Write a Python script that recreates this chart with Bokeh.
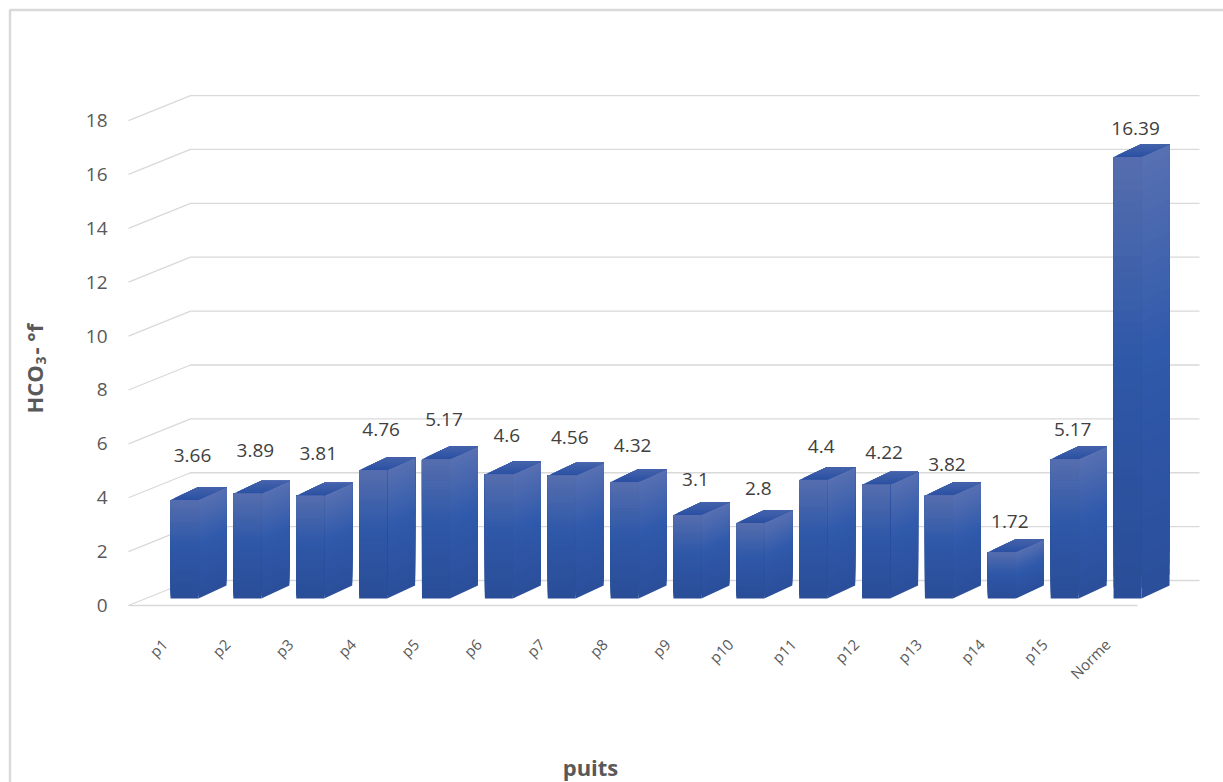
import math
import numpy as np
from bokeh.plotting import figure
from bokeh.models import Range1d, ColumnDataSource
from bokeh.core.properties import value
from bokeh.embed import file_html
from bokeh.resources import INLINE

# ---- data -------------------------------------------------------------
categories = ["p1", "p2", "p3", "p4", "p5", "p6", "p7", "p8", "p9", "p10",
              "p11", "p12", "p13", "p14", "p15", "Norme"]
hco3 = [3.66, 3.89, 3.81, 4.76, 5.17, 4.6, 4.56, 4.32, 3.1, 2.8,
        4.4, 4.22, 3.82, 1.72, 5.17, 16.39]
y_ticks = [0, 2, 4, 6, 8, 10, 12, 14, 16, 18]
x_title = "puits"

# ---- layout (pixels of the 3-D projection) ---------------------------
W, H = 1223, 782
X0_PX, CAT_PX = 167.0, 62.87      # front-plane x of first category, spacing
Y0_PX, UNIT_PX = 605.0, 26.94     # front-plane y of value 0, px per unit


def sx(px):
    return (px - X0_PX) / CAT_PX


def sy(py):
    return (Y0_PX - py) / UNIT_PX


def dx(px):
    return px / CAT_PX


def dy(px):
    return px / UNIT_PX


FLOOR_DX, FLOOR_DY = dx(62), dy(25)     # full depth of the floor
BAR_FX, BAR_FY = dx(17), dy(7)          # depth at which bar fronts stand
BAR_DX, BAR_DY = dx(28), dy(13)         # depth of a bar
HALF_W = dx(14)                         # half width of a bar front
X_LEFT, X_RIGHT = sx(128), sx(1137)     # floor front edge extent

GRID = "#d9d9d9"
TICK_TXT = "#595959"
LABEL_TXT = "#404040"
FONT = "Open Sans"


def hex2rgb(h):
    h = h.lstrip("#")
    return np.array([int(h[i:i + 2], 16) for i in (0, 2, 4)], float)


def rgb2hex(c):
    c = np.clip(np.round(c), 0, 255).astype(int)
    return "#%02x%02x%02x" % tuple(c)


# vertical gradient of the bar faces (bottom -> top)
STOPS_T = [0.0, 0.55, 1.0]
STOPS_C = [hex2rgb("#2a4d97"), hex2rgb("#2f58a8"), hex2rgb("#566eae")]


def grad(t, shade=1.0):
    for k in range(len(STOPS_T) - 1):
        if t <= STOPS_T[k + 1]:
            f = (t - STOPS_T[k]) / (STOPS_T[k + 1] - STOPS_T[k])
            return rgb2hex((STOPS_C[k] * (1 - f) + STOPS_C[k + 1] * f) * shade)
    return rgb2hex(STOPS_C[-1] * shade)


TOP_FRONT, TOP_BACK = hex2rgb("#2a50a3"), hex2rgb("#4563ab")

p = figure(width=W, height=H, min_border=0,
           x_axis_location=None, y_axis_location=None,
           toolbar_location=None, output_backend="svg",
           x_range=Range1d(sx(0), sx(W)), y_range=Range1d(sy(H), sy(0)),
           outline_line_color=None, background_fill_color="white",
           border_fill_color="white")
p.grid.visible = False

# chart border
p.line(x=[sx(9.5), sx(9.5), sx(W + 10)], y=[sy(H + 10), sy(9.5), sy(9.5)],
       line_color="#d9d9d9", line_width=2.5)

# ---- walls: gridlines on the left and back walls ----------------------
gx, gy = [], []
for v in y_ticks:
    gx.append([X_LEFT, X_LEFT + FLOOR_DX, X_RIGHT + FLOOR_DX])
    gy.append([v, v + FLOOR_DY, v + FLOOR_DY])
p.multi_line(xs=gx, ys=gy, line_color=GRID, line_width=1.3)
# front edge of the floor
p.line(x=[X_LEFT, X_RIGHT], y=[0, 0], line_color=GRID, line_width=1.6)

# ---- 3-D columns -----------------------------------------------------
# each face is painted as overlapping bands (band k spans from its own
# start to the far edge of the face), so the gradient has no seams
N = 40
M = 8
front = dict(left=[], right=[], bottom=[], top=[], color=[])
side = dict(xs=[], ys=[], color=[])
top = dict(xs=[], ys=[], color=[])
for i, v in enumerate(hco3):
    xl = i - HALF_W + BAR_FX
    xr = i + HALF_W + BAR_FX
    y0 = BAR_FY
    yt = y0 + v
    for k in range(N):
        b = y0 + v * k / N
        front["left"].append(xl)
        front["right"].append(xr)
        front["bottom"].append(b)
        front["top"].append(yt)
        front["color"].append(grad((k + 0.5) / N))
        side["xs"].append([xr, xr + BAR_DX, xr + BAR_DX, xr])
        side["ys"].append([b, b + BAR_DY, yt + BAR_DY, yt])
        side["color"].append(grad((k + 0.5) / N, 1.02))
    for k in range(M):
        f0 = k / M
        top["xs"].append([xl + BAR_DX * f0, xr + BAR_DX * f0,
                          xr + BAR_DX, xl + BAR_DX])
        top["ys"].append([yt + BAR_DY * f0, yt + BAR_DY * f0,
                          yt + BAR_DY, yt + BAR_DY])
        fm = (k + 0.5) / M
        top["color"].append(rgb2hex(TOP_FRONT * (1 - fm) + TOP_BACK * fm))

p.patches(xs="xs", ys="ys", fill_color="color", line_color=None,
          source=ColumnDataSource(side))
p.patches(xs="xs", ys="ys", fill_color="color", line_color=None,
          source=ColumnDataSource(top))
p.quad(left="left", right="right", bottom="bottom", top="top",
       fill_color="color", line_color=None,
       source=ColumnDataSource(front))

# ---- value labels above the columns ----------------------------------
lab = ColumnDataSource(dict(
    x=[i + BAR_FX + dx(8) for i in range(len(hco3))],
    y=[v + BAR_FY + dy(44 - 1.05 * i) for i, v in enumerate(hco3)],
    text=[f"{v:g}" for v in hco3]))
p.text(x="x", y="y", text="text", source=lab, text_align="center",
       text_baseline="middle", text_font=value(FONT),
       text_font_size="19px", text_color=LABEL_TXT)

# ---- value axis tick labels ------------------------------------------
yt_src = ColumnDataSource(dict(x=[sx(107)] * len(y_ticks), y=y_ticks,
                               text=[str(t) for t in y_ticks]))
p.text(x="x", y="y", text="text", source=yt_src, text_align="right",
       text_baseline="middle", text_font=value(FONT),
       text_font_size="19px", text_color=TICK_TXT)

# ---- category labels (rotated) ---------------------------------------
xc_src = ColumnDataSource(dict(x=[i - dx(3) for i in range(len(categories))],
                               y=[sy(641)] * len(categories),
                               text=categories))
p.text(x="x", y="y", text="text", source=xc_src, angle=math.pi / 4,
       text_align="right", text_baseline="middle", text_font=value(FONT),
       text_font_size="15px", text_color=TICK_TXT)

# ---- axis titles -----------------------------------------------------
p.text(x=[sx(590)], y=[sy(766)], text=[x_title], text_align="center",
       text_baseline="middle", text_font=value(FONT),
       text_font_size="22px", text_font_style="bold", text_color=TICK_TXT)

ttl_x = sx(33)
p.text(x=[ttl_x], y=[sy(413)], text=["HCO"], angle=math.pi / 2,
       text_align="left", text_baseline="middle", text_font=value(FONT),
       text_font_size="22px", text_font_style="bold", text_color=TICK_TXT)
p.text(x=[sx(40)], y=[sy(364)], text=["3"], angle=math.pi / 2,
       text_align="left", text_baseline="middle", text_font=value(FONT),
       text_font_size="14px", text_font_style="bold", text_color=TICK_TXT)
p.text(x=[ttl_x], y=[sy(354)], text=["- °f"], angle=math.pi / 2,
       text_align="left", text_baseline="middle", text_font=value(FONT),
       text_font_size="22px", text_font_style="bold", text_color=TICK_TXT)

open("out.html", "w").write(file_html(p, INLINE))
